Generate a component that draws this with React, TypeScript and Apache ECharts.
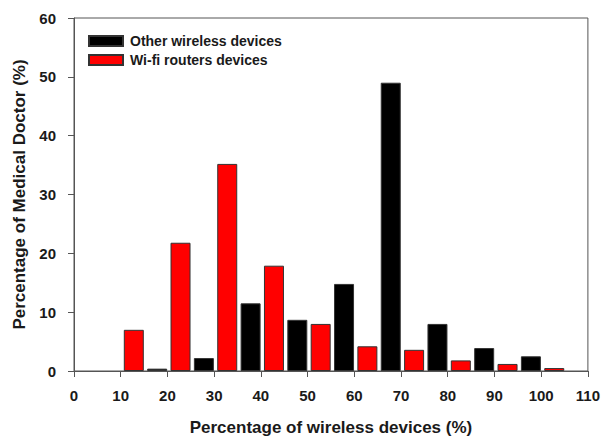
import React, { useEffect, useRef } from "react";
import * as echarts from "echarts";

// Decade bins (left edge, %) and the share of medical doctors in each
const wifiBins = [10, 20, 30, 40, 50, 60, 70, 80, 90, 100];
const wifiValues = [7.0, 21.8, 35.2, 17.9, 8.0, 4.2, 3.6, 1.8, 1.2, 0.5];

const otherBins = [10, 20, 30, 40, 50, 60, 70, 80, 90];
const otherValues = [0.4, 2.2, 11.5, 8.7, 14.8, 49.0, 8.0, 3.9, 2.5];

const xTicks = [0, 10, 20, 30, 40, 50, 60, 70, 80, 90, 100, 110];
const yTicks = [0, 10, 20, 30, 40, 50, 60];

const FONT = "Arial, 'Liberation Sans', Helvetica, sans-serif";

export default function App() {
  const ref = useRef<HTMLDivElement>(null);

  useEffect(() => {
    if (!ref.current) return;
    const chart = echarts.init(ref.current, undefined, { renderer: "svg" });

    // red bar sits in the left half of each decade, black in the right half
    const wifiData = wifiBins.map((b, i) => [b + 2.8, wifiValues[i]]);
    const otherData = otherBins.map((b, i) => [b + 7.8, otherValues[i]]);

    const tickLabel = {
      fontFamily: FONT,
      fontWeight: "bold" as const,
      fontSize: 15,
      color: "#1a1a1a",
    };
    const titleText = {
      fontFamily: FONT,
      fontWeight: "bold" as const,
      fontSize: 17,
      color: "#1a1a1a",
    };

    chart.setOption({
      animation: false,
      backgroundColor: "#fff",
      grid: {
        left: 74,
        right: 15,
        top: 18,
        bottom: 64,
        show: true,
        borderColor: "#555",
        borderWidth: 1,
        backgroundColor: "transparent",
      },
      legend: {
        orient: "vertical",
        left: 88,
        top: 34,
        padding: 0,
        itemWidth: 34,
        itemHeight: 10,
        itemGap: 5,
        icon: "rect",
        textStyle: {
          fontFamily: FONT,
          fontWeight: "bold",
          fontSize: 14,
          color: "#1a1a1a",
          padding: [0, 0, 0, 2],
        },
        data: ["Other wireless devices", "Wi-fi routers devices"],
      },
      xAxis: {
        type: "value",
        min: xTicks[0],
        max: xTicks[xTicks.length - 1],
        interval: 10,
        name: "Percentage of wireless devices (%)",
        nameLocation: "middle",
        nameGap: 48,
        nameTextStyle: titleText,
        axisLine: { show: true, lineStyle: { color: "#555", width: 1 } },
        axisTick: { show: true, inside: false, length: 6, lineStyle: { color: "#555" } },
        axisLabel: { ...tickLabel, margin: 17 },
        splitLine: { show: false },
      },
      yAxis: {
        type: "value",
        min: yTicks[0],
        max: yTicks[yTicks.length - 1],
        interval: 10,
        name: "Percentage of Medical Doctor (%)",
        nameLocation: "middle",
        nameGap: 44,
        nameRotate: 90,
        nameTextStyle: titleText,
        axisLine: { show: true, lineStyle: { color: "#555", width: 1 } },
        axisTick: { show: true, inside: false, length: 6, lineStyle: { color: "#555" } },
        axisLabel: { ...tickLabel, margin: 18 },
        splitLine: { show: false },
      },
      series: [
        {
          name: "Other wireless devices",
          type: "bar",
          data: otherData,
          barWidth: 20,
          barGap: "-100%",
          itemStyle: { color: "#000", borderColor: "#333", borderWidth: 1 },
        },
        {
          name: "Wi-fi routers devices",
          type: "bar",
          data: wifiData,
          barWidth: 20,
          barGap: "-100%",
          itemStyle: { color: "#ff0000", borderColor: "#333", borderWidth: 1 },
        },
      ],
    });

    return () => chart.dispose();
  }, []);

  return (
    <div
      ref={ref}
      style={{ position: "fixed", left: 0, top: 0, width: 603, height: 441 }}
    />
  );
}
